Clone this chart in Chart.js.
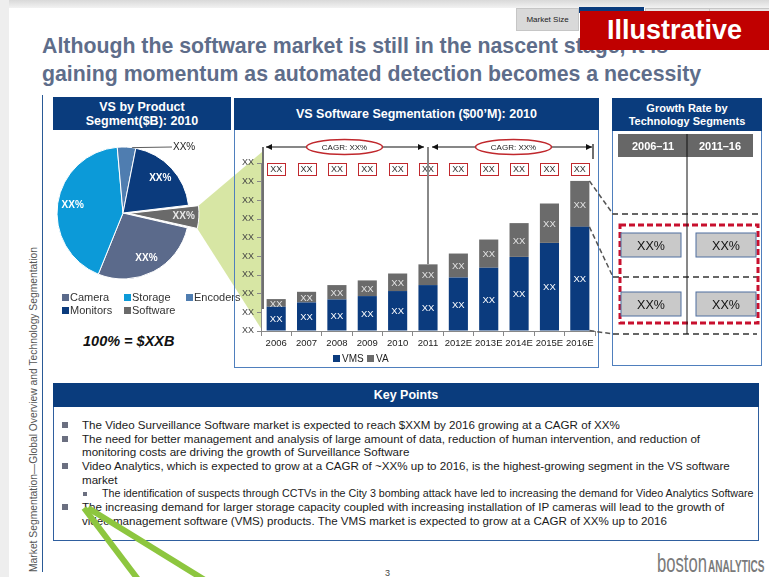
<!DOCTYPE html>
<html>
<head>
<meta charset="utf-8">
<script src="https://cdn.jsdelivr.net/npm/chart.js@4.4.1/dist/chart.umd.min.js"></script>
<style>
  body { margin:0; width:769px; height:577px; overflow:hidden; background:#fff; position:relative; font-family:"Liberation Sans", Arial, sans-serif; }
  .abs { position:absolute; }
  .cab { position:absolute; background:#0a3c7d; color:#fff; font-weight:bold; text-align:center; display:flex; align-items:center; justify-content:center; }
  .painel { position:absolute; border:1.5px solid #4f7fbd; box-sizing:border-box; }
  .lista { position:absolute; left:62px; top:418px; font-size:11.6px; line-height:13.7px; color:#1a1a1a; white-space:nowrap; }
  .lista div { position:relative; padding-left:20px; }
  .lista .q { position:absolute; left:0; top:4px; width:6px; height:6px; background:#6b6f80; }
  .lista .sub { padding-left:40px; font-size:10.7px; }
  .lista .sub .q { left:21px; top:5px; width:4px; height:4px; }
</style>
</head>
<body>

<!-- faixa superior e abas -->
<div class="abs" style="left:0;top:0;width:769px;height:8px;background:linear-gradient(#d9d9d9,#f2f2f2);"></div>
<div class="abs" style="left:0;top:0;width:9px;height:577px;background:#eeeeee;"></div>
<div class="abs" style="left:516px;top:8px;width:63px;height:23px;background:#d9d9d9;border:1px solid #c6c6c6;box-sizing:border-box;font-size:8px;color:#222;text-align:center;line-height:21px;">Market Size</div>
<div class="abs" style="left:579px;top:7px;width:65px;height:6px;background:#0a3c7d;"></div>
<div class="abs" style="left:645px;top:8px;width:63px;height:8px;background:#e4e4e4;border:1px solid #c6c6c6;"></div>
<div class="abs" style="left:709px;top:8px;width:60px;height:8px;background:#e4e4e4;border:1px solid #c6c6c6;"></div>

<!-- título -->
<div class="abs" style="left:42px;top:32px;font-size:21.3px;font-weight:bold;color:#5e6d8a;line-height:28px;white-space:nowrap;">
  Although the software market is still in the nascent stage, it is<br>gaining momentum as automated detection becomes a necessity
</div>
<div class="abs" style="left:580px;top:11px;width:189px;height:39px;background:#c00000;color:#fff;font-weight:bold;font-size:27px;text-align:center;line-height:39px;">Illustrative</div>

<!-- margem esquerda -->
<div class="abs" style="left:42px;top:95px;width:1px;height:477px;background:#2a5a96;"></div>
<div class="abs" style="left:28px;top:572px;transform:rotate(-90deg);transform-origin:left top;font-size:10.3px;line-height:11px;color:#555;white-space:nowrap;">Market Segmentation—Global Overview and Technology Segmentation</div>

<!-- gráfico de pizza -->
<canvas id="graficoPizza" class="abs" width="220" height="200" style="left:45px;top:133px;z-index:1;"></canvas>
<div class="cab" style="left:53px;top:97px;width:178px;height:33px;font-size:12.5px;line-height:14px;z-index:2;">VS by Product<br>Segment($B): 2010</div>
<div class="abs" style="left:83px;top:333px;font-size:14.5px;font-weight:bold;font-style:italic;color:#111;">100% = $XXB</div>

<!-- painéis -->
<div class="painel" style="left:234px;top:98px;width:365px;height:270px;z-index:2;"></div>
<div class="cab" style="left:234px;top:98px;width:365px;height:32px;font-size:12.5px;z-index:2;">VS Software Segmentation ($00’M): 2010</div>
<div class="painel" style="left:612px;top:98px;width:150px;height:268px;z-index:2;"></div>
<div class="cab" style="left:612px;top:98px;width:150px;height:33px;font-size:11px;line-height:13px;z-index:2;">Growth Rate by<br>Technology Segments</div>

<!-- taxa de crescimento -->
<svg class="abs" width="769" height="577" style="left:0;top:0;z-index:2;" font-family="Liberation Sans, Arial, sans-serif">
  <rect x="618" y="134" width="135" height="23" fill="#676767"/>
  <text x="653" y="150" fill="#fff" font-size="11" font-weight="bold" text-anchor="middle">2006–11</text>
  <text x="720" y="150" fill="#fff" font-size="11" font-weight="bold" text-anchor="middle">2011–16</text>
  <line x1="612" y1="214" x2="760" y2="214" stroke="#666" stroke-width="2" stroke-dasharray="6 4"/>
  <line x1="613" y1="277" x2="760" y2="277" stroke="#666" stroke-width="2" stroke-dasharray="6 4"/>
  <line x1="613" y1="334" x2="757" y2="334" stroke="#666" stroke-width="2" stroke-dasharray="6 4"/>
  <rect x="620" y="225" width="138" height="98" fill="none" stroke="#c8102e" stroke-width="3" stroke-dasharray="6 3"/>
  <line x1="687" y1="134" x2="687" y2="334" stroke="#111" stroke-width="1"/>
  <rect x="621" y="233" width="60" height="24" fill="#c9c9c9" stroke="#4f6f9f"/>
  <rect x="696" y="233" width="60" height="24" fill="#c9c9c9" stroke="#4f6f9f"/>
  <rect x="621" y="292" width="60" height="24" fill="#c9c9c9" stroke="#4f6f9f"/>
  <rect x="696" y="292" width="60" height="24" fill="#c9c9c9" stroke="#4f6f9f"/>
  <text x="651" y="250" font-size="12.5" fill="#111" text-anchor="middle">XX%</text>
  <text x="726" y="250" font-size="12.5" fill="#111" text-anchor="middle">XX%</text>
  <text x="651" y="309" font-size="12.5" fill="#111" text-anchor="middle">XX%</text>
  <text x="726" y="309" font-size="12.5" fill="#111" text-anchor="middle">XX%</text>
</svg>

<!-- gráfico de barras -->
<canvas id="graficoBarras" class="abs" width="379" height="234" style="left:236px;top:132px;z-index:3;"></canvas>

<!-- pontos principais -->
<div class="painel" style="left:53px;top:383px;width:706px;height:158px;border-width:1px;border-color:#2f5f9f;"></div>
<div class="cab" style="left:53px;top:383px;width:706px;height:24px;font-size:12.5px;">Key Points</div>
<div class="lista">
  <div><span class="q"></span>The Video Surveillance Software market is expected to reach $XXM by 2016 growing at a CAGR of XX%</div>
  <div><span class="q"></span>The need for better management and analysis of large amount of data, reduction of human intervention, and reduction of<br>monitoring costs are driving the growth of Surveillance Software</div>
  <div><span class="q"></span>Video Analytics, which is expected to grow at a CAGR of ~XX% up to 2016, is the highest-growing segment in the VS software<br>market</div>
  <div class="sub"><span class="q"></span>The identification of suspects through CCTVs in the City 3 bombing attack have led to increasing the demand for Video Analytics Software</div>
  <div><span class="q"></span>The increasing demand for larger storage capacity coupled with increasing installation of IP cameras will lead to the growth of<br>video management software (VMS) products. The VMS market is expected to grow at a CAGR of XX% up to 2016</div>
</div>

<!-- rodapé -->
<svg class="abs" width="769" height="577" style="left:0;top:0;z-index:4;pointer-events:none;">
  <line x1="84" y1="508" x2="140" y2="582" stroke="#8dc63f" stroke-width="6"/>
  <line x1="88" y1="508" x2="208" y2="582" stroke="#8dc63f" stroke-width="6"/>
</svg>
<div class="abs" style="left:385px;top:568px;font-size:9px;color:#444;">3</div>
<div class="abs" style="left:657px;top:550px;white-space:nowrap;color:#7a7a7a;font-size:26px;line-height:26px;transform:scaleX(0.64);transform-origin:left top;">boston</div>
<div class="abs" style="left:708px;top:558px;white-space:nowrap;color:#7a7a7a;font-size:17px;line-height:17px;font-weight:bold;transform:scaleX(0.59);transform-origin:left top;">ANALYTICS</div>

<script>
// =============================
// Dados
// =============================
const segmentos = ['Camera', 'Storage', 'Encoders', 'Monitors', 'Software'];
const participacao = [27.5, 42.5, 4.5, 20, 5.5];
const coresPizza = ['#5b6a8b', '#0c9ad8', '#4f7db0', '#0b3b7d', '#6a6a6a'];

const anos = ['2006', '2007', '2008', '2009', '2010', '2011', '2012E', '2013E', '2014E', '2015E', '2016E'];
const valoresVMS = [1.30, 1.53, 1.69, 1.87, 2.14, 2.46, 2.87, 3.39, 3.97, 4.72, 5.58];
const valoresVA = [0.41, 0.57, 0.77, 0.84, 0.94, 1.11, 1.28, 1.51, 1.81, 2.11, 2.46];
const rotuloEixo = 'XX';

// deslocamento real que o Chart.js aplica na fatia destacada
function deslocamento(arco) {
    const off = (arco.options.offset || 0) / 4;
    const fix = 1 - Math.sin(Math.min(Math.PI, arco.circumference || 0));
    return off + off * fix;
}

// =============================
// Pizza
// =============================
const pluginPizza = {
    id: 'extrasPizza',
    beforeDatasetsDraw(chart) {
        const ctx = chart.ctx;
        const fatia = chart.getDatasetMeta(0).data[4];
        const d = deslocamento(fatia);
        const meio = (fatia.startAngle + fatia.endAngle) / 2;
        const cx = fatia.x + Math.cos(meio) * d;
        const cy = fatia.y + Math.sin(meio) * d;
        const r = fatia.outerRadius;
        ctx.save();
        ctx.fillStyle = '#d7e6a4';
        ctx.beginPath();
        ctx.moveTo(cx + Math.cos(fatia.startAngle) * r, cy + Math.sin(fatia.startAngle) * r);
        ctx.lineTo(217, 19);
        ctx.lineTo(217, 197);
        ctx.lineTo(cx + Math.cos(fatia.endAngle) * r, cy + Math.sin(fatia.endAngle) * r);
        ctx.closePath();
        ctx.fill();
        ctx.restore();
    },
    afterDatasetsDraw(chart) {
        const ctx = chart.ctx;
        const arcos = chart.getDatasetMeta(0).data;
        ctx.save();
        ctx.font = 'bold 10px Arial';
        ctx.textAlign = 'center';
        ctx.textBaseline = 'middle';
        arcos.forEach((arco, i) => {
            const meio = (arco.startAngle + arco.endAngle) / 2;
            if (i === 2) {
                // rótulo externo com linha guia
                const a = arco.startAngle + 0.8 * (arco.endAngle - arco.startAngle);
                ctx.strokeStyle = '#333';
                ctx.lineWidth = 0.8;
                ctx.beginPath();
                ctx.moveTo(arco.x + Math.cos(a) * arco.outerRadius, arco.y + Math.sin(a) * arco.outerRadius);
                ctx.lineTo(127, 14);
                ctx.stroke();
                ctx.fillStyle = '#222';
                ctx.font = '10px Arial';
                ctx.textAlign = 'left';
                ctx.fillText('XX%', 128, 14);
                ctx.font = 'bold 10px Arial';
                ctx.textAlign = 'center';
                return;
            }
            const r = arco.outerRadius * 0.77 + deslocamento(arco);
            ctx.fillStyle = i === 4 ? '#e8e8e8' : '#ffffff';
            ctx.fillText('XX%', arco.x + Math.cos(meio) * r, arco.y + Math.sin(meio) * r);
        });
        ctx.restore();
    },
    afterDraw(chart) {
        // legenda em duas linhas, alinhada à esquerda
        const ctx = chart.ctx;
        const posicoes = [[17, 164], [79, 164], [141, 164], [17, 177], [79, 177]];
        ctx.save();
        ctx.font = '11px Arial';
        ctx.textBaseline = 'middle';
        ctx.textAlign = 'left';
        chart.data.labels.forEach((nome, i) => {
            const [x, y] = posicoes[i];
            ctx.fillStyle = chart.data.datasets[0].backgroundColor[i];
            ctx.fillRect(x, y - 3, 7, 7);
            ctx.fillStyle = '#333';
            ctx.fillText(nome, x + 8, y + 1);
        });
        ctx.restore();
    }
};

new Chart(document.getElementById('graficoPizza'), {
    type: 'pie',
    data: {
        labels: segmentos,
        datasets: [{
            data: participacao,
            backgroundColor: coresPizza,
            borderColor: '#ffffff',
            borderWidth: 1,
            offset: [0, 0, 0, 0, 24]
        }]
    },
    options: {
        responsive: false,
        animation: false,
        devicePixelRatio: 1,
        rotation: 103,
        radius: 66,
        layout: { padding: { left: 0, top: 0, right: 64, bottom: 40 } },
        plugins: { legend: { display: false }, tooltip: { enabled: false } }
    },
    plugins: [pluginPizza]
});

// =============================
// Barras empilhadas
// =============================
function seta(ctx, x1, x2, y) {
    ctx.beginPath();
    ctx.moveTo(x1, y);
    ctx.lineTo(x2, y);
    ctx.stroke();
    ctx.beginPath();
    ctx.moveTo(x1, y); ctx.lineTo(x1 + 6, y - 3); ctx.lineTo(x1 + 6, y + 3); ctx.closePath();
    ctx.moveTo(x2, y); ctx.lineTo(x2 - 6, y - 3); ctx.lineTo(x2 - 6, y + 3); ctx.closePath();
    ctx.fill();
}

function balaoCagr(ctx, x, y) {
    ctx.beginPath();
    ctx.ellipse(x, y, 38, 7.5, 0, 0, Math.PI * 2);
    ctx.fillStyle = '#fff';
    ctx.fill();
    ctx.strokeStyle = '#c0282d';
    ctx.lineWidth = 1.5;
    ctx.stroke();
    ctx.fillStyle = '#222';
    ctx.font = '8px Arial';
    ctx.fillText('CAGR: XX%', x, y + 0.5);
}

const pluginBarras = {
    id: 'extrasBarras',
    afterDatasetsDraw(chart) {
        const ctx = chart.ctx;
        const area = chart.chartArea;
        const metaVMS = chart.getDatasetMeta(0);
        const metaVA = chart.getDatasetMeta(1);
        ctx.save();
        ctx.textAlign = 'center';
        ctx.textBaseline = 'middle';

        metaVMS.data.forEach((barra, i) => {
            const topo = metaVA.data[i];
            ctx.font = '9.5px Arial';
            ctx.fillStyle = '#ffffff';
            ctx.fillText(rotuloEixo, barra.x, (barra.y + barra.base) / 2 + 1);
            ctx.fillStyle = '#e4e4e4';
            ctx.fillText(rotuloEixo, topo.x, (topo.y + topo.base) / 2 + 1);

            // caixinhas vermelhas no topo
            ctx.fillStyle = '#fff';
            ctx.fillRect(barra.x - 9, area.top, 18, 12);
            ctx.strokeStyle = '#c0282d';
            ctx.lineWidth = 1;
            ctx.strokeRect(Math.round(barra.x - 9) + 0.5, area.top + 0.5, 18, 12);
            ctx.fillStyle = '#333';
            ctx.font = '9px Arial';
            ctx.fillText(rotuloEixo, barra.x, area.top + 6.5);
        });

        // setas de CAGR
        const yCagr = area.top - 16;
        const x2011 = metaVMS.data[5].x;
        ctx.strokeStyle = '#888';
        ctx.lineWidth = 2;
        ctx.beginPath();
        ctx.moveTo(x2011, yCagr);
        ctx.lineTo(x2011, metaVA.data[5].y);
        ctx.stroke();

        ctx.strokeStyle = '#111';
        ctx.fillStyle = '#111';
        ctx.lineWidth = 1.2;
        ctx.beginPath();
        ctx.moveTo(area.left + 2, yCagr);
        ctx.lineTo(area.left + 2, area.bottom - 22);
        ctx.moveTo(area.right - 2, yCagr - 3);
        ctx.lineTo(area.right - 2, yCagr + 12);
        ctx.stroke();
        seta(ctx, area.left + 5, x2011 - 4, yCagr);
        seta(ctx, x2011 + 4, area.right - 3, yCagr);
        balaoCagr(ctx, (area.left + x2011) / 2, yCagr);
        balaoCagr(ctx, (x2011 + area.right) / 2 + 2, yCagr);

        // linhas tracejadas até o painel de crescimento
        const ultVA = metaVA.data[10];
        const ultVMS = metaVMS.data[10];
        const xb = ultVMS.x + ultVMS.width / 2;
        ctx.strokeStyle = '#555';
        ctx.lineWidth = 1.5;
        ctx.setLineDash([5, 3]);
        [[ultVA.y, 82], [ultVMS.y, 145], [ultVMS.base, 202]].forEach(([y0, y1]) => {
            ctx.beginPath();
            ctx.moveTo(xb, y0);
            ctx.lineTo(377, y1);
            ctx.stroke();
        });
        ctx.setLineDash([]);

        // legenda
        ctx.textAlign = 'left';
        ctx.font = '10px Arial';
        chart.data.datasets.forEach((ds, k) => {
            const x = 97 + k * 34;
            ctx.fillStyle = ds.backgroundColor;
            ctx.fillRect(x, 223, 7, 7);
            ctx.fillStyle = '#222';
            ctx.fillText(ds.label, x + 9, 227);
        });
        ctx.restore();
    }
};

new Chart(document.getElementById('graficoBarras'), {
    type: 'bar',
    data: {
        labels: anos,
        datasets: [
            { label: 'VMS', data: valoresVMS, backgroundColor: '#0b3b7e', barPercentage: 0.63, categoryPercentage: 1 },
            { label: 'VA', data: valoresVA, backgroundColor: '#6b6b6b', barPercentage: 0.63, categoryPercentage: 1 }
        ]
    },
    options: {
        responsive: false,
        animation: false,
        devicePixelRatio: 1,
        layout: { padding: { left: 0, top: 31, right: 20, bottom: 0 } },
        plugins: { legend: { display: false }, tooltip: { enabled: false } },
        scales: {
            x: {
                stacked: true,
                grid: { drawOnChartArea: false, drawTicks: true, tickLength: 5, color: '#888' },
                border: { color: '#888' },
                ticks: { font: { size: 9.5, family: 'Arial' }, color: '#222', padding: 2, maxRotation: 0, autoSkip: false },
                afterFit: s => { s.height = 35; }
            },
            y: {
                stacked: true,
                min: 0,
                max: 9,
                grid: { drawOnChartArea: false, tickLength: 4, color: '#888' },
                border: { color: '#888' },
                ticks: { stepSize: 1, font: { size: 9, family: 'Arial' }, color: '#444', padding: 3, callback: () => rotuloEixo },
                afterFit: s => { s.width = 25; }
            }
        }
    },
    plugins: [pluginBarras]
});
</script>
</body>
</html>
